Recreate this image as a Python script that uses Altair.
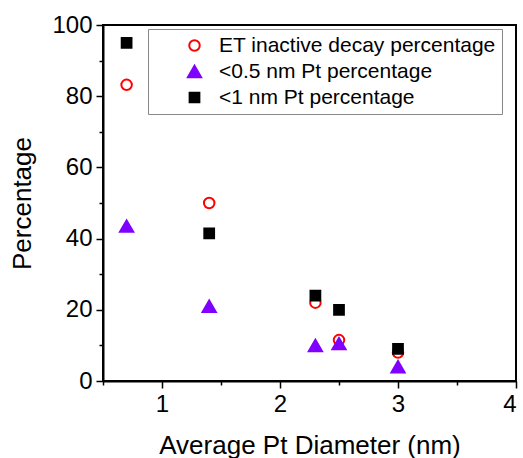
import altair as alt
import pandas as pd

diam = [0.7, 1.4, 2.3, 2.5, 3.0]
et_inactive = [83.2, 50.0, 22.0, 11.5, 8.0]
pt_05 = [43.5, 21.0, 10.0, 10.5, 4.0]
pt_1 = [95.0, 41.5, 24.0, 20.0, 9.0]

series = ["ET inactive decay percentage", "<0.5 nm Pt percentage", "<1 nm Pt percentage"]
strokes = ["#ff0000", "#7f00ff", "#000000"]
fills = ["transparent", "#7f00ff", "#000000"]
shapes = ["circle", "triangle-up", "square"]
sizes = [110, 175, 95]

rows = []
for name, vals in zip(series, [et_inactive, pt_05, pt_1]):
    for d, v in zip(diam, vals):
        rows.append({"series": name, "diam": d, "pct": v})
df = pd.DataFrame(rows)

FONT = "Liberation Sans"
leg = alt.Legend(
    orient="none", legendX=45, legendY=4, title=None,
    labelFont=FONT, labelFontSize=21, labelColor="black", labelLimit=500,
    strokeColor="#888888", padding=6, symbolOffset=30,
    rowPadding=4, labelOffset=14, symbolStrokeWidth=2,
    fillColor="white",
)

chart = alt.Chart(df).mark_point(opacity=1, strokeWidth=2).encode(
    x=alt.X("diam:Q", title="Average Pt Diameter (nm)",
            scale=alt.Scale(domain=[0.5, 4], nice=False, zero=False),
            axis=alt.Axis(values=[0.5, 1, 1.5, 2, 2.5, 3, 3.5, 4],
                          labelExpr="datum.value % 1 === 0 ? format(datum.value, 'd') : ''",
                          tickSize={"condition": {"test": "datum.value % 1 === 0", "value": 7}, "value": 4},
                          grid=False, labelPadding=4, titlePadding=16)),
    y=alt.Y("pct:Q", title="Percentage",
            scale=alt.Scale(domain=[0, 100], nice=False),
            axis=alt.Axis(values=list(range(0, 101, 10)),
                          labelExpr="datum.value % 20 === 0 ? datum.label : ''",
                          tickSize={"condition": {"test": "datum.value % 20 === 0", "value": 7}, "value": 4},
                          grid=False, labelPadding=4, titlePadding=16)),
    stroke=alt.Stroke("series:N", scale=alt.Scale(domain=series, range=strokes), legend=leg),
    fill=alt.Fill("series:N", scale=alt.Scale(domain=series, range=fills), legend=leg),
    shape=alt.Shape("series:N", scale=alt.Scale(domain=series, range=shapes), legend=leg),
    size=alt.Size("series:N", scale=alt.Scale(type="ordinal", domain=series, range=sizes), legend=leg),
    order=alt.Order("ord:Q"),
).transform_calculate(
    ord="indexof(['ET inactive decay percentage','<0.5 nm Pt percentage','<1 nm Pt percentage'], datum.series)"
).properties(
    width=413, height=356,
    autosize=alt.AutoSizeParams(type="none"),
    padding={"left": 103, "top": 25, "right": 7, "bottom": 77},
).configure_view(
    stroke="black", strokeWidth=2
).configure_axis(
    domainColor="black", domainWidth=2, tickColor="black", tickWidth=1.5,
    labelFont=FONT, labelFontSize=24, labelColor="black",
    titleFont=FONT, titleFontSize=26, titleFontWeight="normal", titleColor="black",
)

chart.save("out.html", embed_options={"renderer": "svg", "actions": False})
